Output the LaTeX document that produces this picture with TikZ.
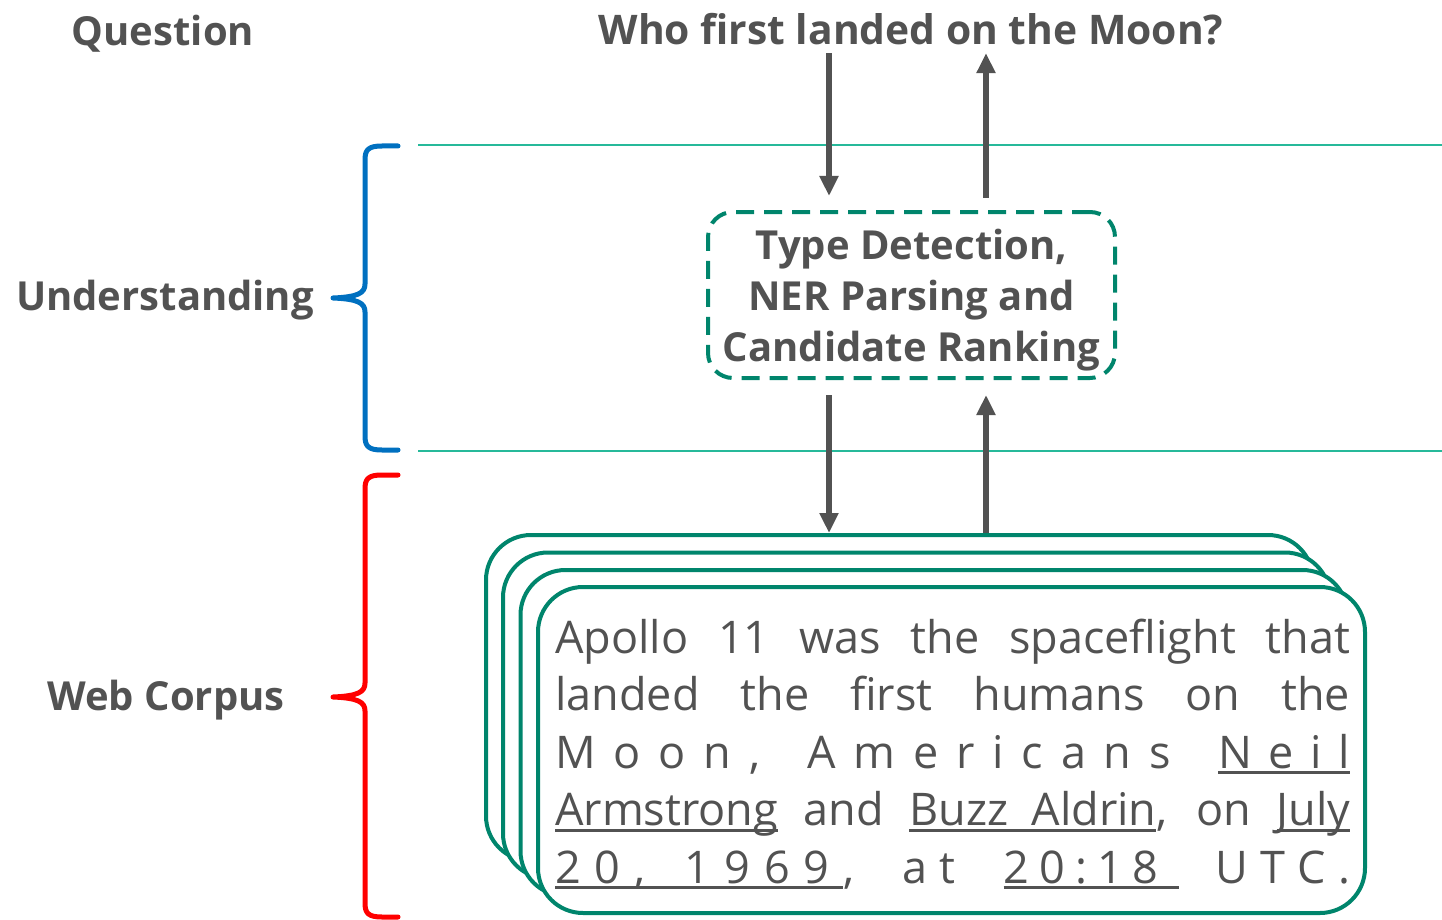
\documentclass[tikz,border=0pt]{standalone}
\usepackage{fontspec}
\setmainfont{Open Sans}
\usetikzlibrary{arrows.meta}
\definecolor{txt}{RGB}{82,82,82}
\definecolor{teallight}{RGB}{38,185,154}
\definecolor{tealdark}{RGB}{0,133,108}
\definecolor{braceblue}{RGB}{0,112,192}
\definecolor{bracered}{RGB}{255,0,0}
\newcommand\myul[1]{\leavevmode\setbox0=\hbox{#1}\rlap{\color{txt}\rule[-6pt]{\wd0}{2.6pt}}\box0\relax}
\tikzset{
  lbl/.style={text=txt,font=\bfseries\fontsize{40}{48}\selectfont,inner sep=0pt},
  arr/.style={draw=txt,line width=6pt,-{Triangle[width=18pt,length=20pt]}},
  sepline/.style={draw=teallight,line width=1.8pt},
  bracepath/.style={line width=5pt,line cap=round,line join=round},
  stackbox/.style={draw=tealdark,line width=4pt,fill=white,rounded corners=45pt,
    minimum width=827pt,minimum height=326pt,inner sep=0pt},
  dashbox/.style={draw=tealdark,line width=4pt,dash pattern=on 18pt off 10pt,rounded corners=25pt,
    minimum width=407pt,minimum height=166pt,inner sep=0pt,align=center,text=txt,
    font=\bfseries\fontsize{40}{51}\selectfont},
  bodyline/.style={anchor=base west,inner sep=0pt,text=txt,font=\fontsize{45}{57}\selectfont}
}
\begin{document}
\begin{tikzpicture}[x=1pt,y=-1pt]
\useasboundingbox (0,0) rectangle (1442,920);
% labels
\node[lbl] (lq) at (163,34) {Question};
\node[lbl] (lu) at (165,300) {Understanding};
\node[lbl] (lw) at (166,700) {Web Corpus};
\node[lbl,font=\bfseries\fontsize{40.8}{48}\selectfont] (q) at (911,29) {Who first landed on the Moon?};
% separator lines
\draw[sepline] (418,145) -- (1442,145);
\draw[sepline] (418,451) -- (1442,451);
% braces
\draw[bracepath,draw=braceblue] (398,146) -- (382,146) .. controls (368,146) and (365,150) .. (365,160)
  -- (365,284) .. controls (365,293) and (358,297) .. (333,298)
  .. controls (358,299) and (365,303) .. (365,312) -- (365,436)
  .. controls (365,446) and (368,450) .. (382,450) -- (398,450);
\draw[bracepath,draw=bracered] (398,475) -- (382,475) .. controls (368,475) and (365,479) .. (365,489)
  -- (365,683) .. controls (365,692) and (358,696) .. (333,697)
  .. controls (358,698) and (365,702) .. (365,711) -- (365,903)
  .. controls (365,913) and (368,917) .. (382,917) -- (398,917);
% dashed box
\node[dashbox] (d) at (911.5,295) {\raisebox{-5pt}[\height][\depth]{\parbox{400pt}{\centering Type Detection,\\NER Parsing and\\Candidate Ranking}}};
% stacked boxes
\node[stackbox] (s1) at (899.5,698) {};
\node[stackbox] (s2) at (916.5,715.5) {};
\node[stackbox] (s3) at (934,733) {};
\node[stackbox] (s4) at (951.5,750) {};
% arrows
\coordinate (xa) at (829,0);
\coordinate (xb) at (986,0);
\draw[arr,shorten <=8pt,shorten >=14pt] (q.south -| xa) -- (d.north -| xa);
\draw[arr,shorten <=12pt,shorten >=8pt] (d.north -| xb) -- (q.south -| xb);
\draw[arr,shorten <=15pt,shorten >=0pt] (d.south -| xa) -- (s1.north -| xa);
\draw[arr,shorten <=0pt,shorten >=15pt] (s1.north -| xb) -- (d.south -| xb);
% body text
\node[bodyline] (t1) at (555,653) {\makebox[795pt][s]{Apollo 11 was the spaceflight that}};
\node[bodyline] (t2) at (555,710.5) {\makebox[795pt][s]{landed the first humans on the}};
\node[bodyline] (t3) at (555,768) {\makebox[795pt][s]{M\hfill o\hfill o\hfill n\hfill ,\hfill\ \hfill A\hfill m\hfill e\hfill r\hfill i\hfill c\hfill a\hfill n\hfill s\hfill\ \hfill\myul{\makebox[132pt][s]{N\hfill e\hfill i\hfill l}}}};
\node[bodyline] (t4) at (555,825.5) {\makebox[795pt][s]{\myul{Armstrong} and \myul{\makebox[247pt][s]{Buzz Aldrin}}, on \myul{July}}};
\node[bodyline] (t5) at (555,883) {\makebox[795pt][s]{\myul{\makebox[288pt][s]{2\hfill 0\hfill ,\hfill\ \hfill 1\hfill 9\hfill 6\hfill 9\hfill}},\hfill\ \hfill\ a\hfill t\hfill\ \hfill\ \myul{\makebox[175pt][s]{2\hfill 0\hfill :\hfill 1\hfill 8\hfill\hfill}}\hfill\ \hfill U\hfill T\hfill C\hfill .}};
\end{tikzpicture}
\end{document}
